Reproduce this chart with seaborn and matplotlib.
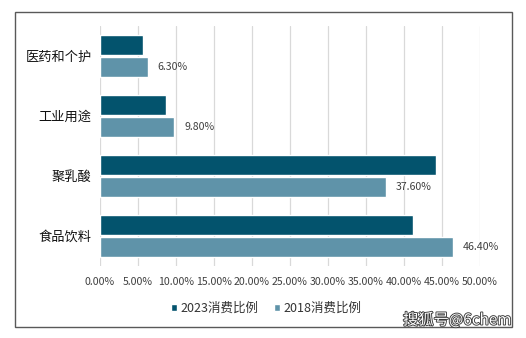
import matplotlib
matplotlib.use("Agg")
import matplotlib.pyplot as plt
import matplotlib.patheffects as pe
from matplotlib.patches import Rectangle
import seaborn as sns
import pandas as pd

# Consumption share by application
categories = ["医药和个护", "工业用途", "聚乳酸", "食品饮料"]
share_2023 = [5.7, 8.7, 44.2, 41.2]
share_2018 = [6.3, 9.8, 37.6, 46.4]
series_names = ["2023消费比例", "2018消费比例"]
x_ticks = [0, 5, 10, 15, 20, 25, 30, 35, 40, 45, 50]

colors = ["#03536D", "#5F93A9"]

df = pd.DataFrame({
    "category": categories * 2,
    "series": [series_names[0]] * len(categories) + [series_names[1]] * len(categories),
    "value": share_2023 + share_2018,
})

sns.set_style("white")
plt.rcParams["font.family"] = ["Noto Sans CJK SC", "DejaVu Sans"]

fig = plt.figure(figsize=(5.26, 3.38), dpi=100)
ax = fig.add_axes([0.190, 0.213, 0.7225, 0.71])

sns.barplot(data=df, y="category", x="value", hue="series", orient="h",
            palette=colors, width=0.75, gap=0.11, order=categories,
            hue_order=series_names, saturation=1, ax=ax)

ax.set_xlim(0, 50)
ax.set_ylim(3.5, -0.5)
ax.set_xticks(x_ticks)
ax.set_xticklabels([f"{t:.2f}%" for t in x_ticks], fontsize=7.6, color="#404040")
ax.tick_params(axis="x", length=0, pad=8)
ax.tick_params(axis="y", length=0, pad=6, labelsize=9.5, labelcolor="#111111")
ax.set_xlabel("")
ax.set_ylabel("")
ax.grid(axis="x", color="#D9D9D9", linewidth=0.9)
ax.set_axisbelow(True)
for s in ax.spines.values():
    s.set_visible(False)

# Value labels on the 2018 bars
ax.bar_label(ax.containers[1], labels=[f"{v:.2f}%" for v in share_2018],
             padding=7, fontsize=7.6, color="#404040")

handles, labels = ax.get_legend_handles_labels()
ax.get_legend().remove()
fig.legend(handles, labels, loc="center", bbox_to_anchor=(0.506, 0.088), ncol=2,
           frameon=False, fontsize=9, labelcolor="#333333", handlelength=0.45,
           handleheight=0.45, handletextpad=0.25, columnspacing=1.3)

# Outer chart border
fig.patches.append(Rectangle((15 / 526, 1 - 327 / 338), 497 / 526, 315 / 338,
                             transform=fig.transFigure, fill=False,
                             edgecolor="#595959", linewidth=1.0))

fig.text(0.972, 0.053, "搜狐号@6chem", ha="right", va="center", fontsize=11,
         fontweight="medium", color="white",
         path_effects=[pe.withStroke(linewidth=1.3, foreground="#3a3a3a")])

fig.savefig("out.png", dpi=100)
